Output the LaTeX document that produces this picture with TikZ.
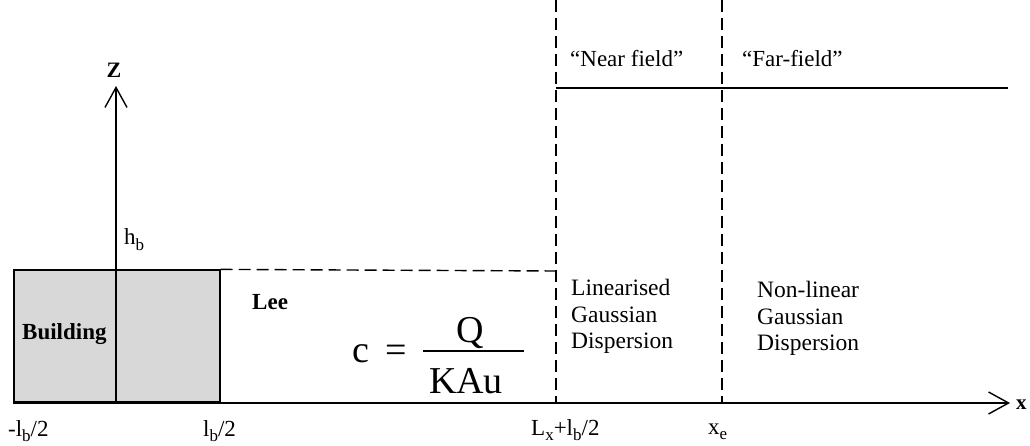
\documentclass[tikz,border=0pt]{standalone}
\usepackage{fontspec}
\setmainfont{Liberation Serif}
\usetikzlibrary{arrows.meta}
\definecolor{bldfill}{RGB}{216,216,216}
\newcommand\mysub[1]{\raisebox{-0.25em}{\fontsize{17}{17}\selectfont #1}}
\tikzset{
  lbl/.style={inner sep=0pt, anchor=base west, font=\fontsize{23}{27}\selectfont},
  bldlbl/.style={inner sep=0pt, anchor=base west, font=\fontsize{23}{27}\selectfont\bfseries},
  eqtxt/.style={inner sep=0pt, anchor=base, font=\fontsize{38}{44}\selectfont},
  solidln/.style={line width=1.6pt},
  axisln/.style={line width=2pt},
  dashln/.style={line width=1.4pt, dash pattern=on 12pt off 6pt},
  vtip/.style={-{Straight Barb[length=20pt,width=22pt,line width=1.4pt]}}
}
\begin{document}
\begin{tikzpicture}[x=1pt,y=-1pt]
\useasboundingbox (0,0) rectangle (1030,446);
% building
\node[draw, solidln, fill=bldfill, minimum width=206pt, minimum height=132pt, inner sep=0pt, anchor=south west] (bld) at (13,403) {};
\node[bldlbl] (bldtxt) at (22,339) {Building};
% coordinates
\coordinate (xstart) at (13,403);
\coordinate (xend) at (1010,403);
\coordinate (zbase) at (116,403);
\coordinate (ztop) at (116,86);
\coordinate (nearTop) at (556,0);
\coordinate (nearBot) at (556,403);
\coordinate (farTop) at (722,0);
\coordinate (farBot) at (722,403);
\coordinate (lineEnd) at (1008,88);
\coordinate (nearMid) at (556,88);
\coordinate (nearCorner) at (556,271);
% axes
\draw[axisln, vtip] (xstart) -- (xend);
\draw[solidln, vtip] (zbase) -- (ztop);
% dashed
\draw[dashln] (bld.north east) -- (nearCorner);
\draw[dashln] (nearTop) -- (nearBot);
\draw[dashln] (farTop) -- (farBot);
% solid top line
\draw[solidln] (nearMid) -- (lineEnd);
% axis labels
\node[inner sep=0pt, anchor=base, font=\fontsize{22}{26}\selectfont\bfseries] (zlbl) at (114,78) {Z};
\node[inner sep=0pt, anchor=base west, font=\fontsize{21}{24}\selectfont\bfseries] (xlbl) at (1016,409) {x};
\node[lbl] (hb) at (124,245) {h\mysub{b}};
\node[bldlbl] (lee) at (252,309) {Lee};
\node[lbl] (lbm) at (8,436) {-l\mysub{b}/2};
\node[lbl] (lbp) at (203,436) {l\mysub{b}/2};
\node[lbl] (lx) at (531,435) {L\mysub{x}+l\mysub{b}/2};
\node[lbl] (xe) at (708,434) {x\mysub{e}};
% field labels
\node[lbl] (near) at (570,67) {“Near field”};
\node[lbl] (far) at (742,67) {“Far-field”};
\node[lbl, align=left, anchor=north west, font=\fontsize{23.5}{26.7}\selectfont] (lin) at (571,279) {Linearised\\Gaussian\\Dispersion};
\node[lbl, align=left, anchor=north west, font=\fontsize{23.5}{26.7}\selectfont] (nonlin) at (757,281) {Non-linear\\Gaussian\\Dispersion};
% equation
\node[eqtxt] (eqc) at (361,362) {c};
\node[eqtxt] (eqeq) at (396,362) {=};
\coordinate (barL) at (423,351);
\coordinate (barR) at (524,351);
\draw[line width=1.6pt] (barL) -- (barR);
\node[eqtxt] (eqQ) at (470,342) {Q};
\node[eqtxt] (eqK) at (466,393) {KAu};
\end{tikzpicture}
\end{document}
